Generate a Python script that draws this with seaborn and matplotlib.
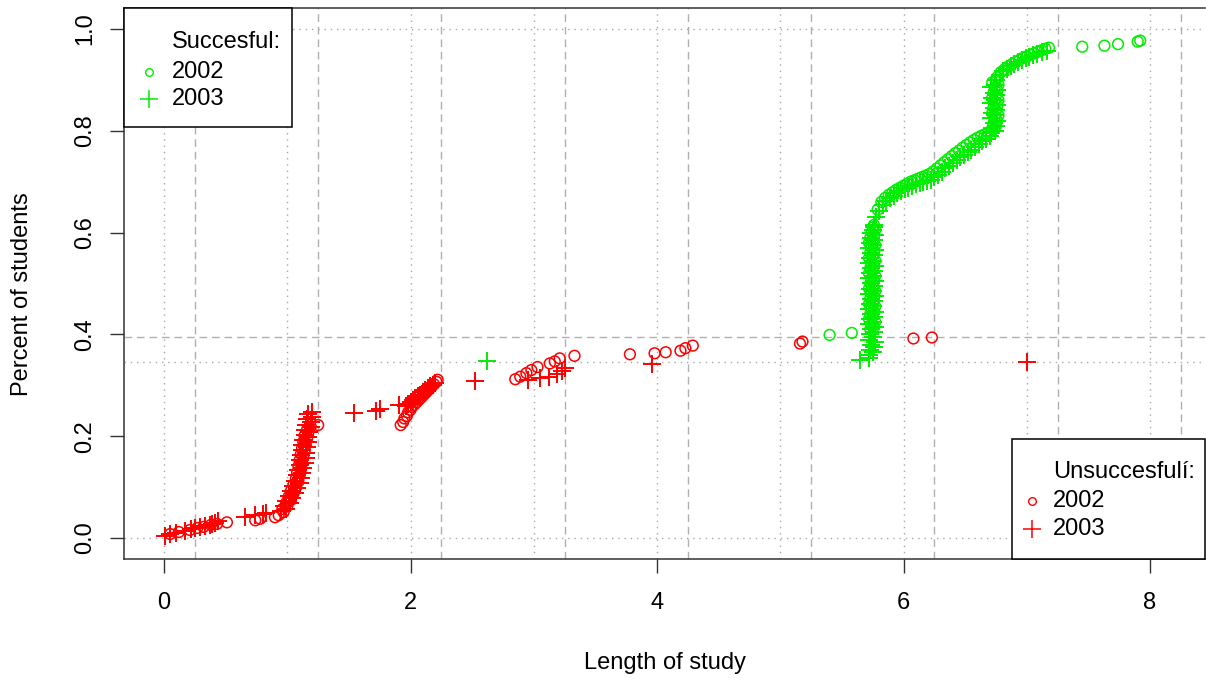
import numpy as np
import pandas as pd
import seaborn as sns
import matplotlib.pyplot as plt
from matplotlib.patches import Rectangle

# unsuccessful students, 2002 (circles)
unsucc_2002_len = [0.05, 0.12, 0.21, 0.27, 0.32, 0.38, 0.43, 0.51, 0.74, 0.78, 0.90,
                   0.93, 0.97, 0.96, 1.00, 0.99, 1.03, 1.01, 1.05, 1.03, 1.07, 1.05, 1.09,
                   1.07, 1.10, 1.08, 1.11, 1.09, 1.12, 1.10, 1.13, 1.11, 1.14, 1.12, 1.15,
                   1.13, 1.16, 1.14, 1.17, 1.16, 1.19, 1.25,
                   1.92, 1.94, 1.95, 1.97, 1.98, 2.00, 2.01, 2.03, 2.05, 2.07, 2.09, 2.11,
                   2.13, 2.15, 2.17, 2.19, 2.21, 2.22,
                   2.85, 2.89, 2.94, 2.98, 3.03, 3.13, 3.17, 3.21, 3.33, 3.78, 3.98,
                   4.07, 4.19, 4.23, 4.29, 5.16, 5.18, 6.08, 6.23]
unsucc_2002_pct = [0.008, 0.012, 0.016, 0.020, 0.022, 0.026, 0.028, 0.031, 0.035, 0.038, 0.041,
                   0.045, 0.051, 0.057, 0.063, 0.069, 0.075, 0.081, 0.087, 0.093, 0.099, 0.105, 0.111,
                   0.117, 0.123, 0.129, 0.135, 0.141, 0.147, 0.153, 0.159, 0.165, 0.171, 0.177, 0.183,
                   0.189, 0.195, 0.201, 0.207, 0.213, 0.219, 0.222,
                   0.222, 0.228, 0.235, 0.240, 0.247, 0.252, 0.258, 0.262, 0.267, 0.272, 0.277, 0.282,
                   0.287, 0.292, 0.297, 0.302, 0.307, 0.311,
                   0.312, 0.317, 0.324, 0.330, 0.336, 0.343, 0.347, 0.353, 0.358, 0.361, 0.363,
                   0.365, 0.368, 0.373, 0.378, 0.382, 0.386, 0.392, 0.394]

# unsuccessful students, 2003 (plus)
unsucc_2003_len = [0.01, 0.05, 0.10, 0.17, 0.22, 0.25, 0.29, 0.33, 0.37, 0.39, 0.41, 0.44,
                   0.66, 0.74, 0.80, 0.83,
                   0.95, 0.99, 0.97, 1.02, 0.99, 1.04, 1.01, 1.06, 1.03, 1.08, 1.05, 1.10,
                   1.06, 1.11, 1.08, 1.12, 1.09, 1.13, 1.10, 1.14, 1.10, 1.15, 1.11, 1.15,
                   1.12, 1.16, 1.12, 1.17, 1.13, 1.17, 1.14, 1.18, 1.14, 1.19, 1.15, 1.19,
                   1.16, 1.20, 1.17, 1.20,
                   1.54, 1.72, 1.75,
                   1.91, 1.96, 1.98, 2.00, 2.02, 2.04, 2.06, 2.08, 2.10, 2.12, 2.14, 2.16,
                   2.18, 2.20,
                   2.52, 2.95, 3.05, 3.12, 3.19, 3.23, 3.25, 3.96, 7.00]
unsucc_2003_pct = [0.005, 0.008, 0.010, 0.014, 0.017, 0.019, 0.021, 0.023, 0.025, 0.027, 0.030, 0.034,
                   0.041, 0.045, 0.047, 0.050,
                   0.054, 0.058, 0.063, 0.068, 0.073, 0.078, 0.083, 0.088, 0.093, 0.098, 0.103, 0.108,
                   0.113, 0.118, 0.123, 0.128, 0.133, 0.138, 0.143, 0.148, 0.153, 0.158, 0.163, 0.168,
                   0.173, 0.178, 0.183, 0.188, 0.193, 0.198, 0.203, 0.208, 0.213, 0.218, 0.223, 0.228,
                   0.233, 0.238, 0.243, 0.247,
                   0.246, 0.250, 0.253,
                   0.262, 0.260, 0.264, 0.268, 0.271, 0.275, 0.279, 0.282, 0.286, 0.290, 0.294, 0.298,
                   0.301, 0.304,
                   0.308, 0.311, 0.314, 0.317, 0.323, 0.329, 0.335, 0.342, 0.345]

# successful students, 2002 (circles)
succ_2002_len = [5.40, 5.58,
                 5.73, 5.76, 5.74, 5.77, 5.72, 5.75, 5.73, 5.76, 5.74, 5.77, 5.72, 5.75,
                 5.73, 5.76, 5.74, 5.77, 5.72, 5.75, 5.73, 5.76, 5.74, 5.77, 5.72, 5.75,
                 5.73, 5.76, 5.74, 5.77, 5.72, 5.75, 5.73, 5.76, 5.74, 5.77, 5.72, 5.75,
                 5.73, 5.76, 5.74, 5.77, 5.75, 5.76,
                 5.79, 5.82, 5.85, 5.88, 5.91, 5.94, 5.97, 6.00, 6.03, 6.06, 6.09, 6.12,
                 6.15, 6.18, 6.21, 6.24, 6.27, 6.30, 6.33, 6.36, 6.39, 6.42, 6.45, 6.48,
                 6.51, 6.54, 6.57, 6.60, 6.63, 6.66, 6.69,
                 6.72, 6.75, 6.73, 6.76, 6.74, 6.77, 6.72, 6.75, 6.73, 6.76, 6.74, 6.77,
                 6.72, 6.75, 6.73, 6.76, 6.74, 6.77, 6.72, 6.75, 6.76,
                 6.79, 6.82, 6.85, 6.88, 6.91, 6.94, 6.97, 7.00, 7.03, 7.06, 7.09, 7.12,
                 7.15, 7.18,
                 7.45, 7.63, 7.74, 7.90, 7.92]
succ_2002_pct = [0.399, 0.403,
                 0.410, 0.415, 0.420, 0.425, 0.430, 0.435, 0.440, 0.445, 0.450, 0.455, 0.460, 0.465,
                 0.470, 0.475, 0.480, 0.485, 0.490, 0.495, 0.500, 0.505, 0.510, 0.515, 0.520, 0.525,
                 0.530, 0.535, 0.540, 0.545, 0.550, 0.555, 0.560, 0.565, 0.570, 0.575, 0.580, 0.585,
                 0.590, 0.595, 0.600, 0.605, 0.610, 0.615,
                 0.645, 0.660, 0.668, 0.674, 0.679, 0.684, 0.688, 0.692, 0.696, 0.700, 0.703, 0.706,
                 0.709, 0.712, 0.715, 0.720, 0.726, 0.732, 0.738, 0.744, 0.750, 0.756, 0.761, 0.767,
                 0.772, 0.777, 0.782, 0.786, 0.790, 0.793, 0.796,
                 0.805, 0.810, 0.815, 0.820, 0.825, 0.830, 0.835, 0.840, 0.845, 0.850, 0.855, 0.860,
                 0.865, 0.870, 0.875, 0.880, 0.885, 0.890, 0.895, 0.900, 0.905,
                 0.915, 0.921, 0.926, 0.931, 0.935, 0.939, 0.943, 0.946, 0.949, 0.952, 0.955, 0.958,
                 0.961, 0.963,
                 0.965, 0.967, 0.970, 0.975, 0.977]

# successful students, 2003 (plus)
succ_2003_len = [2.62, 5.65, 5.72,
                 5.72, 5.75, 5.73, 5.76, 5.74, 5.77, 5.72, 5.75, 5.73, 5.76, 5.74, 5.77,
                 5.72, 5.75, 5.73, 5.76, 5.74, 5.77, 5.72, 5.75, 5.73, 5.76, 5.74, 5.77,
                 5.72, 5.75, 5.73, 5.76, 5.74, 5.77, 5.72, 5.75, 5.73, 5.76, 5.74, 5.77,
                 5.72, 5.75, 5.73, 5.76, 5.74, 5.77, 5.72, 5.75, 5.73, 5.76, 5.74, 5.77,
                 5.74, 5.75, 5.76, 5.76,
                 5.78, 5.80, 5.83, 5.86, 5.89, 5.92, 5.95, 5.98, 6.01, 6.04, 6.07, 6.10,
                 6.13, 6.16, 6.19, 6.22, 6.25, 6.28, 6.31, 6.34, 6.37, 6.40, 6.43, 6.46,
                 6.49, 6.52, 6.55, 6.58, 6.61, 6.64, 6.67, 6.70,
                 6.71, 6.74, 6.72, 6.75, 6.73, 6.76, 6.71, 6.74, 6.72, 6.75, 6.73, 6.76,
                 6.71, 6.74, 6.72, 6.75, 6.73, 6.76, 6.71, 6.74, 6.75,
                 6.78, 6.81, 6.84, 6.87, 6.90, 6.93, 6.96, 6.99, 7.02, 7.05, 7.08, 7.12, 7.16]
succ_2003_pct = [0.348, 0.350, 0.354,
                 0.360, 0.365, 0.370, 0.375, 0.380, 0.385, 0.390, 0.395, 0.400, 0.405, 0.410, 0.415,
                 0.420, 0.425, 0.430, 0.435, 0.440, 0.445, 0.450, 0.455, 0.460, 0.465, 0.470, 0.475,
                 0.480, 0.485, 0.490, 0.495, 0.500, 0.505, 0.510, 0.515, 0.520, 0.525, 0.530, 0.535,
                 0.540, 0.545, 0.550, 0.555, 0.560, 0.565, 0.570, 0.575, 0.580, 0.585, 0.590, 0.595,
                 0.600, 0.605, 0.610, 0.615,
                 0.630, 0.642, 0.655, 0.662, 0.667, 0.672, 0.677, 0.681, 0.685, 0.688, 0.692, 0.695,
                 0.697, 0.699, 0.701, 0.704, 0.709, 0.714, 0.719, 0.726, 0.731, 0.737, 0.742, 0.748,
                 0.753, 0.758, 0.763, 0.768, 0.774, 0.779, 0.784, 0.790,
                 0.795, 0.800, 0.805, 0.810, 0.815, 0.820, 0.825, 0.830, 0.835, 0.840, 0.845, 0.850,
                 0.855, 0.860, 0.865, 0.870, 0.875, 0.880, 0.885, 0.890, 0.900,
                 0.910, 0.917, 0.922, 0.927, 0.931, 0.935, 0.939, 0.942, 0.945, 0.948, 0.951, 0.954, 0.957]

# reference lines
vlines_dotted = [0, 1, 2, 3, 4, 5, 6, 7, 8]
vlines_dashed = [0.25, 1.25, 2.25, 3.25, 4.25, 5.25, 6.25, 7.25, 8.25]
hlines_dotted = [0.0, 0.345, 1.0]
hlines_dashed = [0.394]

x_ticks = [0, 2, 4, 6, 8]
y_ticks = [0.0, 0.2, 0.4, 0.6, 0.8, 1.0]

RED = "#ff0000"
GREEN = "#00ee00"
FRAME = "#333333"

sns.set_theme(style="white")
plt.rcParams["font.family"] = ["Liberation Sans", "DejaVu Sans"]
plt.rcParams["text.color"] = "black"

fig = plt.figure(figsize=(12.06, 6.79), dpi=100)
ax = fig.add_axes([124 / 1206, 1 - 559 / 679, 1081 / 1206, 551 / 679])

for v in vlines_dotted:
    ax.axvline(v, color="#a8a8a8", lw=1, dashes=(1, 3.5), zorder=0)
for v in vlines_dashed:
    ax.axvline(v, color="#b0b0b0", lw=1, dashes=(5.5, 3.5), zorder=0)
for h in hlines_dotted:
    ax.axhline(h, color="#a8a8a8", lw=1, dashes=(1, 3.5), zorder=0)
for h in hlines_dashed:
    ax.axhline(h, color="#b0b0b0", lw=1, dashes=(5.5, 3.5), zorder=0)

groups = [
    (unsucc_2002_len, unsucc_2002_pct, RED, "o"),
    (unsucc_2003_len, unsucc_2003_pct, RED, "+"),
    (succ_2002_len, succ_2002_pct, GREEN, "o"),
    (succ_2003_len, succ_2003_pct, GREEN, "+"),
]
for xs, ys, col, mk in groups:
    df = pd.DataFrame({"length": xs, "pct": ys})
    if mk == "o":
        sns.scatterplot(data=df, x="length", y="pct", ax=ax, marker="o", s=60,
                        facecolor="none", edgecolor=col, linewidth=1.1,
                        legend=False, zorder=3)
    else:
        sns.scatterplot(data=df, x="length", y="pct", ax=ax, marker="+", s=170,
                        color=col, linewidth=1.4, legend=False, zorder=3)

ax.set_xlim(-0.325, 8.446)
ax.set_ylim(-0.041, 1.041)
ax.set_xticks(x_ticks)
ax.set_xticklabels([str(t) for t in x_ticks])
ax.set_yticks(y_ticks)
ax.set_yticklabels([f"{t:.1f}" for t in y_ticks])

for s in ax.spines.values():
    s.set_color(FRAME)
    s.set_linewidth(1.1)
ax.spines["right"].set_visible(False)

ax.tick_params(axis="both", which="major", length=10, width=1.0, color=FRAME,
               labelsize=17, labelcolor="black", direction="out",
               bottom=True, left=True)
ax.tick_params(axis="x", pad=14)
ax.tick_params(axis="y", pad=10)
for lab in ax.get_yticklabels():
    lab.set_rotation(90)
    lab.set_va("center")

ax.set_xlabel("Length of study", fontsize=17, va="center", color="black")
ax.set_ylabel("Percent of students", fontsize=17, va="center", color="black")
ax.xaxis.set_label_coords(0.5, -(663 - 559) / 551)
ax.yaxis.set_label_coords(-(124 - 22) / 1081, 0.48)

# legends drawn like base-R legend boxes
def draw_legend(x0, y0, w, h, mx, tx, rows, col, title):
    ax.add_patch(Rectangle((x0, y0), w, h, transform=ax.transAxes, facecolor="white",
                           edgecolor="black", lw=1.1, zorder=5, clip_on=False))
    ax.text(tx, rows[0], title, transform=ax.transAxes, fontsize=17,
            va="center", ha="left", zorder=6)
    ax.plot([mx], [rows[1]], marker="o", ms=5.5, mfc="none", mec=col, mew=1.0,
            transform=ax.transAxes, zorder=6, clip_on=False)
    ax.text(tx, rows[1], "2002", transform=ax.transAxes, fontsize=17,
            va="center", ha="left", zorder=6)
    ax.plot([mx], [rows[2]], marker="+", ms=13, mec=col, mew=1.1,
            transform=ax.transAxes, zorder=6, clip_on=False)
    ax.text(tx, rows[2], "2003", transform=ax.transAxes, fontsize=17,
            va="center", ha="left", zorder=6)

draw_legend(0.0, 0.784, 0.1554, 0.216, 0.0231, 0.0444, [0.938, 0.884, 0.835],
            GREEN, "Succesful:")
draw_legend(0.8214, 0.0, 0.1786, 0.2178, 0.840, 0.8594, [0.158, 0.105, 0.0544],
            RED, "Unsuccesfulí:")

fig.savefig("out.png", dpi=100)
